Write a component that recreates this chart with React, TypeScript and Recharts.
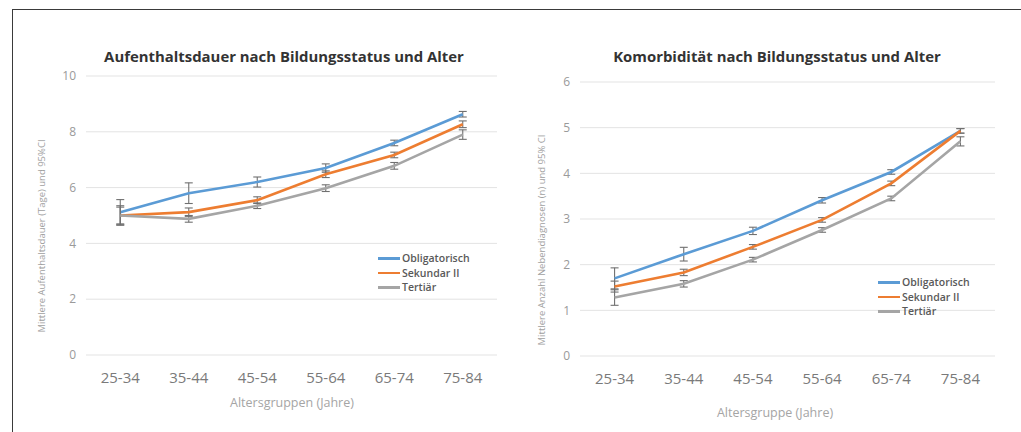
import React from "react";
import {
  LineChart,
  Line,
  XAxis,
  YAxis,
  CartesianGrid,
  ErrorBar,
} from "recharts";

const categories = ["25-34", "35-44", "45-54", "55-64", "65-74", "75-84"];

// Aufenthaltsdauer (Tage)
const stayObligatorisch = [5.12, 5.8, 6.2, 6.7, 7.6, 8.63];
const staySekundar = [5.0, 5.12, 5.55, 6.48, 7.17, 8.27];
const stayTertiaer = [5.0, 4.88, 5.35, 5.98, 6.78, 7.9];
const stayErrObligatorisch = [0.45, 0.37, 0.18, 0.15, 0.1, 0.1];
const stayErrSekundar = [0.35, 0.15, 0.12, 0.12, 0.1, 0.12];
const stayErrTertiaer = [0.3, 0.12, 0.1, 0.12, 0.12, 0.17];
const stayTicks = [0, 2, 4, 6, 8, 10];

// Komorbidität (Anzahl Nebendiagnosen)
const comObligatorisch = [1.7, 2.23, 2.74, 3.41, 4.03, 4.93];
const comSekundar = [1.52, 1.83, 2.39, 2.98, 3.78, 4.93];
const comTertiaer = [1.28, 1.58, 2.11, 2.76, 3.45, 4.7];
const comErrObligatorisch = [0.23, 0.15, 0.08, 0.06, 0.05, 0.05];
const comErrSekundar = [0.12, 0.07, 0.05, 0.05, 0.05, 0.05];
const comErrTertiaer = [0.17, 0.07, 0.05, 0.05, 0.05, 0.1];
const comTicks = [0, 1, 2, 3, 4, 5, 6];

const seriesNames = ["Obligatorisch", "Sekundar II", "Tertiär"];
const colors = ["#5B9BD5", "#ED7D31", "#A5A5A5"];

const buildRows = (vals: number[][], errs: number[][]) =>
  categories.map((c, i) => ({
    cat: c,
    a: vals[0][i],
    b: vals[1][i],
    c: vals[2][i],
    ea: errs[0][i],
    eb: errs[1][i],
    ec: errs[2][i],
  }));

const stayData = buildRows(
  [stayObligatorisch, staySekundar, stayTertiaer],
  [stayErrObligatorisch, stayErrSekundar, stayErrTertiaer]
);
const comData = buildRows(
  [comObligatorisch, comSekundar, comTertiaer],
  [comErrObligatorisch, comErrSekundar, comErrTertiaer]
);

const FONT = "'Open Sans', sans-serif";

const LegendBox = ({ x, y }: { x: number; y: number }) => (
  <div
    style={{
      position: "absolute",
      left: x,
      top: y,
      fontFamily: FONT,
      fontSize: 10.5,
      fontWeight: 600,
      color: "#595959",
      whiteSpace: "nowrap",
    }}
  >
    {seriesNames.map((n, i) => (
      <div key={n} style={{ display: "flex", alignItems: "center", height: 14.5 }}>
        <span
          style={{
            display: "inline-block",
            width: 22,
            height: 2.5,
            background: colors[i],
            marginRight: 2,
          }}
        />
        {n}
      </div>
    ))}
  </div>
);

type PanelProps = {
  left: number;
  data: any[];
  ticks: number[];
  domainMax: number;
  title: string;
  xTitle: string;
  yTitle: string;
  plotLeft: number;
  plotRight: number;
  plotTop: number;
  plotBottom: number;
  legendX: number;
  legendY: number;
  titleX: number;
  titleY: number;
  xTitleX: number;
  xTitleY: number;
  yTitleX: number;
  yTitleY: number;
};

const Panel = (p: PanelProps) => {
  const W = 510;
  const H = 432;
  const yAxisW = 40;
  const xAxisH = 40;
  const keys = ["a", "b", "c"];
  const errKeys = ["ea", "eb", "ec"];
  const halfBand = (p.plotRight - p.plotLeft) / categories.length / 2;
  return (
    <div style={{ position: "absolute", left: p.left, top: 0, width: W, height: H }}>
      <div
        style={{
          position: "absolute",
          left: p.titleX - 250,
          width: 500,
          top: p.titleY - 10,
          textAlign: "center",
          fontFamily: FONT,
          fontWeight: 700,
          fontSize: 14.9,
          color: "#333",
          lineHeight: "20px",
          whiteSpace: "nowrap",
        }}
      >
        {p.title}
      </div>
      <LineChart
        width={W}
        height={H}
        data={p.data}
        margin={{
          top: p.plotTop,
          right: W - p.plotRight,
          left: p.plotLeft - yAxisW,
          bottom: H - p.plotBottom - xAxisH,
        }}
      >
        <CartesianGrid vertical={false} stroke="#e3e3e3" strokeWidth={1} />
        <XAxis
          dataKey="cat"
          axisLine={false}
          tickLine={false}
          tickMargin={11}
          height={xAxisH}
          padding={{ left: halfBand, right: halfBand }}
          interval={0}
          tick={{ fill: "#7a7a7a", fontSize: 15, fontFamily: FONT }}
        />
        <YAxis
          type="number"
          domain={[0, p.domainMax]}
          ticks={p.ticks}
          axisLine={false}
          tickLine={false}
          width={yAxisW}
          tickSize={0}
          tickMargin={10}
          tick={{ fill: "#9a9a9a", fontSize: 12, fontFamily: FONT }}
        />
        {keys.map((k, i) => (
          <Line
            key={k}
            dataKey={k}
            name={seriesNames[i]}
            stroke={colors[i]}
            strokeWidth={2.6}
            dot={false}
            activeDot={false}
            isAnimationActive={false}
          >
            <ErrorBar
              dataKey={errKeys[i]}
              width={4}
              strokeWidth={1.1}
              stroke="#707070"
              direction="y"
            />
          </Line>
        ))}
      </LineChart>
      <LegendBox x={p.legendX} y={p.legendY} />
      <div
        style={{
          position: "absolute",
          left: p.xTitleX - 150,
          width: 300,
          top: p.xTitleY - 10,
          textAlign: "center",
          fontFamily: FONT,
          fontSize: 12.5,
          color: "#a5a5a5",
          lineHeight: "20px",
        }}
      >
        {p.xTitle}
      </div>
      <div
        style={{
          position: "absolute",
          left: p.yTitleX - 150,
          top: p.yTitleY - 7,
          width: 300,
          height: 14,
          lineHeight: "14px",
          textAlign: "center",
          transform: "rotate(-90deg)",
          fontFamily: FONT,
          fontSize: 9.5,
          color: "#a0a0a0",
          whiteSpace: "nowrap",
        }}
      >
        {p.yTitle}
      </div>
    </div>
  );
};

export default function App() {
  return (
    <div
      style={{
        position: "absolute",
        left: 0,
        top: 0,
        width: 1021,
        height: 432,
        background: "#fff",
        overflow: "hidden",
      }}
    >
      <div
        style={{
          position: "absolute",
          left: 12,
          top: 9,
          width: 1021,
          height: 440,
          borderTop: "1.6px solid #3a3a3a",
          borderLeft: "1.6px solid #3a3a3a",
        }}
      />
      <Panel
        left={0}
        data={stayData}
        ticks={stayTicks}
        domainMax={10}
        title="Aufenthaltsdauer nach Bildungsstatus und Alter"
        xTitle="Altersgruppen (Jahre)"
        yTitle="Mittlere Aufenthaltsdauer (Tage) und 95%CI"
        plotLeft={86}
        plotRight={497}
        plotTop={76}
        plotBottom={355}
        legendX={378}
        legendY={251}
        titleX={284}
        titleY={56}
        xTitleX={292}
        xTitleY={403}
        yTitleX={42}
        yTitleY={236}
      />
      <Panel
        left={510}
        data={comData}
        ticks={comTicks}
        domainMax={6}
        title="Komorbidität nach Bildungsstatus und Alter"
        xTitle="Altersgruppe (Jahre)"
        yTitle="Mittlere Anzahl Nebendiagnosen (n) und 95% CI"
        plotLeft={70}
        plotRight={485}
        plotTop={82}
        plotBottom={356}
        legendX={368}
        legendY={275}
        titleX={267}
        titleY={56}
        xTitleX={265}
        xTitleY={413}
        yTitleX={32}
        yTitleY={240}
      />
    </div>
  );
}
